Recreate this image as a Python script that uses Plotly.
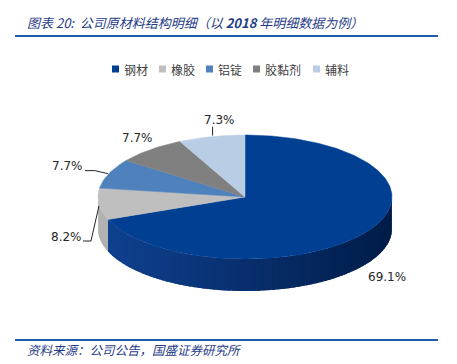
import numpy as np
import plotly.graph_objects as go

# ---- data ----
categories = ["钢材", "橡胶", "铝锭", "胶黏剂", "辅料"]
shares = [69.1, 8.2, 7.7, 7.7, 7.3]
value_labels = ["69.1%", "8.2%", "7.7%", "7.7%", "7.3%"]

# ---- style ----
top_colors = ["#003F92", "#BFBFBF", "#4F81BD", "#808080", "#B9CDE5"]
wall_left = [(16, 66, 146), (178, 178, 178), (70, 115, 170), (115, 115, 115), (170, 190, 215)]
wall_right = [(0, 28, 72), (150, 150, 150), (50, 90, 140), (95, 95, 95), (150, 170, 195)]
label_offsets = [(21, 45), (-32, 33), (-41, -8), (-13, -12), (8, -17)]
leaders = [None, [(-16, 37), (-8, 37), (0, 2)], [(-24, -3), (-14, -3), (-1, 0)], None, [(1, -10), (1, -1)]]
legend_square_x = [112, 159, 206, 253, 313]   # legend layout (pixels)
LEG_Y = 69

W, H = 457, 364
CX, CY, RX, RY, DEPTH = 245, 197, 147, 62, 32


def pt(theta_deg, dy=0.0):
    t = np.radians(theta_deg)
    return CX + RX * np.cos(t), CY - RY * np.sin(t) + dy


def lerp(c1, c2, t):
    return "rgb(%d,%d,%d)" % tuple(int(round(a + (b - a) * t)) for a, b in zip(c1, c2))


fig = go.Figure()

total = sum(shares)
cum = 0.0
slices = []
for v in shares:
    ts = 90 - 360 * cum / total
    cum += v
    te = 90 - 360 * cum / total
    slices.append((ts, te))

# side walls (front half only), gradient built from overlapping strips
for i, (ts, te) in enumerate(slices):
    for k in (-1, 0, 1):
        lo = max(te, -180 + 360 * k)
        hi = min(ts, 0 + 360 * k)
        if hi <= lo:
            continue
        n = max(1, int(np.ceil((hi - lo) / 2)))
        edges = np.linspace(lo, hi, n + 1)
        step = edges[1] - edges[0]
        for j, (a0, a1) in enumerate(zip(edges[:-1], edges[1:])):
            a1x = min(hi, a1 + step * 0.8)
            angs = np.linspace(a0, a1x, 4)
            xs_t, ys_t = zip(*[pt(a) for a in angs])
            xs_b, ys_b = zip(*[pt(a, DEPTH) for a in angs[::-1]])
            t = (np.cos(np.radians((a0 + a1) / 2)) + 1) / 2
            col = lerp(wall_left[i], wall_right[i], t)
            fig.add_trace(go.Scatter(x=list(xs_t) + list(xs_b), y=list(ys_t) + list(ys_b),
                                     mode="lines", fill="toself", fillcolor=col,
                                     line=dict(width=0), hoverinfo="skip", showlegend=False))

# top faces
for i, (ts, te) in enumerate(slices):
    angs = np.linspace(ts, te, max(3, int(abs(ts - te))))
    arc = [pt(a) for a in angs]
    xs = [CX] + [p[0] for p in arc] + [CX]
    ys = [CY] + [p[1] for p in arc] + [CY]
    fig.add_trace(go.Scatter(x=xs, y=ys, mode="lines", fill="toself",
                             fillcolor=top_colors[i], line=dict(color=top_colors[i], width=0.5),
                             name=categories[i], hoverinfo="skip", showlegend=False))

annotations = []
shapes = []

# legend (squares + names)
for i, c in enumerate(categories):
    x0 = legend_square_x[i]
    shapes.append(dict(type="rect", xref="x", yref="y", x0=x0, x1=x0 + 7, y0=LEG_Y - 3.5, y1=LEG_Y + 3.5,
                       fillcolor=top_colors[i], line=dict(width=0)))
    annotations.append(dict(x=x0 + 10, y=LEG_Y, xref="x", yref="y", xanchor="left", yanchor="middle",
                            text=c, showarrow=False,
                            font=dict(family="Noto Sans CJK SC", size=12, color="#404040")))

# labels and leader lines
for i, (ts, te) in enumerate(slices):
    mid = (ts + te) / 2
    ax_, ay_ = pt(mid)
    dx, dy = label_offsets[i]
    annotations.append(dict(x=ax_ + dx, y=ay_ + dy, xref="x", yref="y", text=value_labels[i],
                            showarrow=False, font=dict(family="DejaVu Sans", size=12, color="#262626")))
    if leaders[i]:
        fig.add_trace(go.Scatter(x=[ax_ + p[0] for p in leaders[i]], y=[ay_ + p[1] for p in leaders[i]],
                                 mode="lines", line=dict(color="#262626", width=1),
                                 hoverinfo="skip", showlegend=False))

annotations.append(dict(x=25, y=22, xref="x", yref="y", xanchor="left", yanchor="middle",
                        text="<i>图表 20:  公司原材料结构明细（以 <b>2018</b> 年明细数据为例）</i>",
                        showarrow=False,
                        font=dict(family="Noto Sans CJK SC", size=13, color="#1F3C88")))
annotations.append(dict(x=25, y=349, xref="x", yref="y", xanchor="left", yanchor="middle",
                        text="<i>资料来源：公司公告，国盛证券研究所</i>", showarrow=False,
                        font=dict(family="Noto Sans CJK SC", size=12.5, color="#1F3C88")))

shapes += [
    dict(type="line", xref="x", yref="y", x0=15, x1=438, y0=36, y1=36, line=dict(color="#1F5BB0", width=2)),
    dict(type="line", xref="x", yref="y", x0=15, x1=438, y0=340, y1=340, line=dict(color="#1F5BB0", width=2)),
]

fig.update_layout(
    width=W, height=H, autosize=False,
    margin=dict(l=0, r=0, t=0, b=0),
    paper_bgcolor="white", plot_bgcolor="white",
    xaxis=dict(range=[0, W], visible=False, fixedrange=True),
    yaxis=dict(range=[H, 0], visible=False, fixedrange=True),
    annotations=annotations, shapes=shapes,
    showlegend=False,
)

fig.write_html("out.html", config={"displayModeBar": False},
               post_script="document.body.style.margin='0';")
